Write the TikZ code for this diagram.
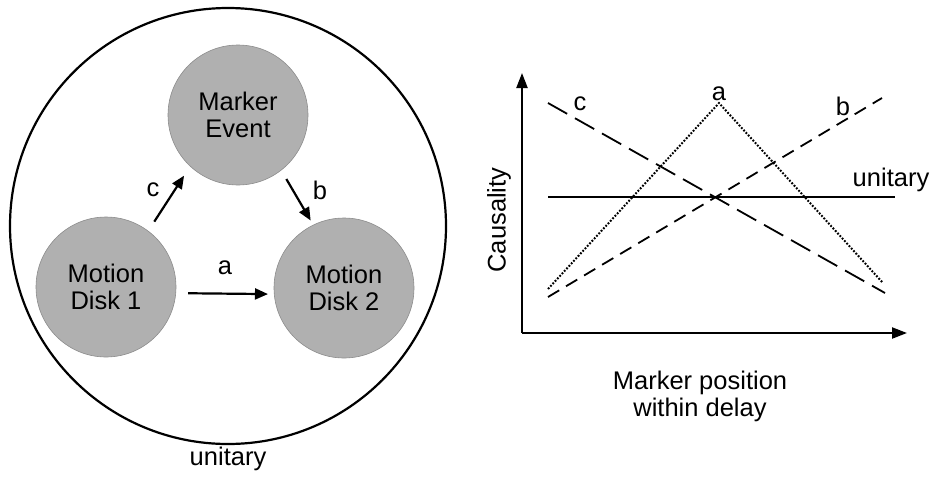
\documentclass[tikz,border=0pt]{standalone}
\usepackage{fontspec}
\setmainfont{Liberation Sans}
\usetikzlibrary{arrows.meta}
\begin{document}
\begin{tikzpicture}[x=1pt,y=-1pt,
  lbl/.style={font=\fontsize{25.5}{27}\selectfont, inner sep=0pt},
  disk/.style={circle, minimum size=140pt, inner sep=0pt, fill=black!31, draw=black!45, line width=0.6pt, align=center, font=\fontsize{25.5}{27}\selectfont},
  conn/.style={line width=2.2pt, -{Triangle[length=13pt,width=11pt]}},
  axis/.style={line width=2.2pt, -{Triangle[length=15pt,width=11pt]}},
  curve/.style={line width=1.8pt}
]
\useasboundingbox (0,0) rectangle (934,480);
% left diagram
\draw[line width=2.2pt] (228,226) circle (218pt);
\node[disk] (me) at (238,115) {Marker\\Event};
\node[disk] (d1) at (106,287) {Motion\\Disk 1};
\node[disk] (d2) at (344,288) {Motion\\Disk 2};
\draw[conn, shorten <=12pt, shorten >=6pt] (d1.-5) -- (d2.185);
\draw[conn, shorten <=11pt, shorten >=11pt] (d1.53) -- (me.227);
\draw[conn, shorten <=10pt, shorten >=5pt] (me.308) -- (d2.116);
\node[lbl] (la) at (225,268) {a};
\node[lbl] (lc) at (153,190) {c};
\node[lbl] (lb) at (320,190) {b};
\node[lbl] (lu) at (228,459) {unitary};
% right chart
\coordinate (o) at (522,333);
\coordinate (ytop) at (522,73);
\coordinate (xend) at (907,333);
\draw[axis] (o) -- (ytop);
\draw[axis] (o) -- (xend);
\draw[curve] (548,197) -- (895,197);
\draw[curve, dash pattern=on 22pt off 9pt] (548,103) -- (885,293);
\draw[curve, dash pattern=on 13pt off 8pt] (548,297) -- (882,98);
\draw[curve, line width=2pt, dash pattern=on 1.8pt off 1.6pt] (548,289) -- (719,103) -- (883,283);
\node[lbl] (ca) at (719,94) {a};
\node[lbl] (cc) at (580,104) {c};
\node[lbl] (cb) at (843,106) {b};
\node[lbl] (cu) at (891,180) {unitary};
\node[lbl, rotate=90] (cy) at (499,220) {Causality};
\node[lbl, align=center] (cx) at (700,396) {Marker position\\within delay};
\end{tikzpicture}
\end{document}
